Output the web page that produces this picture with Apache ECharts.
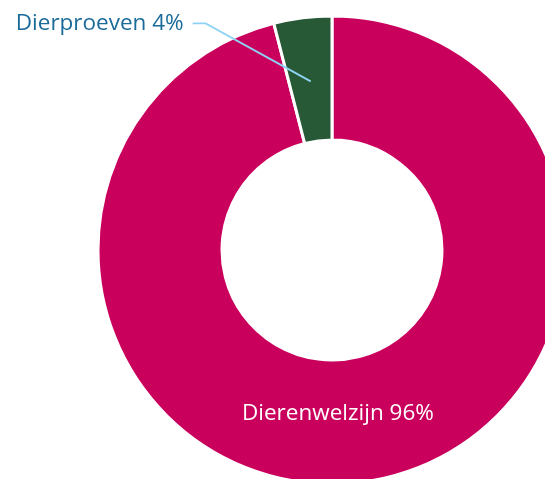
<!DOCTYPE html>
<html>
<head>
<meta charset="utf-8">
<script src="https://cdn.jsdelivr.net/npm/echarts@6/dist/echarts.min.js"></script>
<style>
  html, body { margin: 0; padding: 0; background: #fff; }
  #chart { width: 545px; height: 479px; }
</style>
</head>
<body>
<div id="chart"></div>
<script>
// data
const categories = ['Dierenwelzijn', 'Dierproeven']
const values = [96, 4]
const colors = ['#ca005d', '#275937']

const chart = echarts.init(document.getElementById('chart'))

const FONT = '"Open Sans", "Noto Sans", sans-serif'

// main ring
const mainData = categories.map((name, i) => ({
  name,
  value: values[i],
  itemStyle: { color: colors[i] },
  label: { show: i === 0 }
}))

// transparent helper ring, only there to anchor the leader line mid-ring
const guideData = categories.map((name, i) => ({
  name,
  value: values[i],
  label: { show: i === 1 },
  labelLine: { show: i === 1 }
}))

chart.setOption({
  animation: false,
  series: [
    {
      type: 'pie',
      center: [332, 250],
      radius: [110, 234],
      startAngle: 90,
      clockwise: true,
      silent: true,
      itemStyle: { borderColor: '#fff', borderWidth: 3 },
      label: {
        position: 'inside',
        formatter: '{b} {c}%',
        color: '#fff',
        fontSize: 22.5,
        fontFamily: FONT
      },
      labelLayout: { dx: -16, dy: -10 },
      data: mainData
    },
    {
      type: 'pie',
      center: [332, 250],
      radius: [110, 170],
      startAngle: 90,
      clockwise: true,
      silent: true,
      z: 3,
      itemStyle: { color: 'rgba(0,0,0,0)', borderWidth: 0 },
      label: {
        position: 'outside',
        formatter: '{b} {c}%',
        color: '#1b6b9a',
        fontSize: 22.5,
        fontFamily: FONT
      },
      labelLine: {
        length: 20,
        length2: 10,
        lineStyle: { color: '#8fd3f4', width: 1.8 }
      },
      labelLayout: function (params) {
        if (params.dataIndex !== 1 || !params.labelLinePoints) return {}
        const p0 = params.labelLinePoints[0]
        return {
          x: p0[0] - 127,
          y: p0[1] - 58,
          align: 'right',
          verticalAlign: 'middle',
          labelLinePoints: [
            [p0[0], p0[1]],
            [p0[0] - 105, p0[1] - 58],
            [p0[0] - 118, p0[1] - 58]
          ]
        }
      },
      data: guideData
    }
  ]
})

window.addEventListener('resize', () => chart.resize())
</script>
</body>
</html>
